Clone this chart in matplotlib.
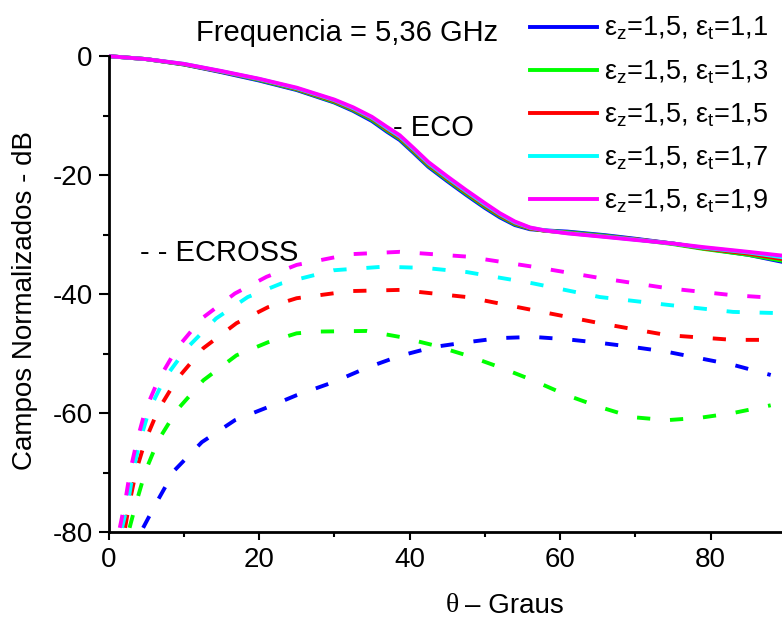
import matplotlib
matplotlib.use('Agg')
import matplotlib.pyplot as plt
from matplotlib.ticker import MultipleLocator

plt.rcParams['font.family'] = ['Liberation Sans', 'DejaVu Sans']
plt.rcParams['mathtext.fontset'] = 'custom'
plt.rcParams['mathtext.rm'] = 'Liberation Sans'
plt.rcParams['axes.unicode_minus'] = False

# co-polar field (ECO), one curve per epsilon_t
theta_co = [0, 5, 10, 15, 20, 25, 30, 32.5, 35, 37, 38.7, 40.5, 42.5, 45, 47.5, 50, 52, 54, 56, 58, 61, 66, 70, 75, 79, 85, 90]
eco_11 = [0, -0.5, -1.4, -2.7, -4.1, -5.7, -7.8, -9.2, -10.9, -12.7, -14.1, -16.2, -18.6, -21.0, -23.3, -25.5, -27.1, -28.4, -29.1, -29.3, -29.5, -30.1, -30.7, -31.5, -32.3, -33.4, -34.7]
eco_13 = [0, -0.5, -1.4, -2.6, -4.0, -5.6, -7.7, -9.05, -10.7, -12.5, -13.9, -16.0, -18.4, -20.8, -23.1, -25.3, -26.9, -28.25, -29.0, -29.35, -29.6, -30.2, -30.8, -31.6, -32.4, -33.4, -34.5]
eco_15 = [0, -0.5, -1.35, -2.6, -3.9, -5.5, -7.55, -8.9, -10.5, -12.3, -13.7, -15.8, -18.2, -20.6, -22.9, -25.1, -26.75, -28.1, -28.95, -29.35, -29.7, -30.3, -30.8, -31.5, -32.3, -33.2, -34.2]
eco_17 = [0, -0.5, -1.3, -2.55, -3.85, -5.4, -7.4, -8.75, -10.35, -12.1, -13.5, -15.6, -18.0, -20.4, -22.7, -24.9, -26.55, -27.95, -28.85, -29.3, -29.75, -30.35, -30.85, -31.5, -32.2, -33.0, -33.9]
eco_19 = [0, -0.5, -1.3, -2.5, -3.8, -5.3, -7.3, -8.6, -10.2, -11.9, -13.3, -15.4, -17.8, -20.2, -22.5, -24.7, -26.4, -27.8, -28.8, -29.3, -29.8, -30.4, -30.9, -31.5, -32.1, -32.9, -33.6]

# cross-polar field (ECROSS)
th_x11 = [4.6, 6.4, 8.8, 12.4, 16.8, 21.2, 25.0, 29.9, 34.3, 38.7, 43.2, 47.6, 52.0, 56.4, 60.9, 65.3, 69.7, 74.2, 78.6, 83.0, 88.0]
ex_11 = [-79.3, -75.0, -69.6, -64.9, -61.2, -59.0, -57.0, -54.8, -52.4, -50.4, -48.9, -48.1, -47.4, -47.2, -47.6, -48.2, -48.9, -49.7, -50.8, -51.9, -53.6]
th_x13 = [2.8, 3.7, 4.9, 6.6, 9.1, 12.6, 17.0, 21.2, 25.0, 28.1, 34.3, 38.7, 43.2, 47.6, 52.0, 56.4, 60.9, 65.3, 69.7, 74.2, 78.6, 83.0, 88.0]
ex_13 = [-79.3, -75.0, -69.8, -64.6, -59.5, -54.5, -50.3, -48.1, -46.6, -46.3, -46.2, -47.2, -48.6, -50.3, -52.3, -54.5, -57.0, -59.0, -60.7, -61.2, -60.8, -60.0, -58.7]
th_x15 = [2.2, 2.8, 3.7, 4.9, 6.6, 9.1, 12.6, 17.0, 21.2, 25.0, 32.1, 38.7, 47.6, 56.4, 65.3, 74.2, 83.0, 88.0]
ex_15 = [-79.3, -75.0, -69.6, -64.6, -59.5, -54.3, -49.1, -44.9, -42.2, -40.7, -39.5, -39.3, -40.5, -42.7, -44.9, -46.9, -47.7, -47.7]
th_x17 = [1.8, 2.6, 3.3, 4.2, 5.4, 7.5, 10.4, 14.3, 18.5, 23.0, 29.9, 36.5, 42.0, 47.6, 56.4, 65.3, 74.2, 83.0, 89.0]
ex_17 = [-79.3, -75.0, -69.6, -64.6, -59.5, -54.1, -49.1, -44.1, -40.5, -38.2, -36.0, -35.4, -35.6, -36.3, -38.2, -40.5, -41.8, -43.0, -43.2]
th_x19 = [1.5, 2.2, 2.9, 3.8, 4.9, 6.6, 9.1, 12.4, 16.8, 21.0, 25.0, 32.1, 38.7, 47.6, 56.4, 65.3, 74.2, 83.0, 88.0]
ex_19 = [-79.3, -75.0, -69.6, -64.6, -59.5, -54.5, -49.1, -44.1, -39.9, -37.1, -35.1, -33.3, -32.9, -33.7, -35.4, -37.3, -39.0, -40.2, -40.6]

labels = ['1,1', '1,3', '1,5', '1,7', '1,9']
colors = ['#0000ff', '#00ff00', '#ff0000', '#00ffff', '#ff00ff']
eco = [eco_11, eco_13, eco_15, eco_17, eco_19]
ecross = [(th_x11, ex_11), (th_x13, ex_13), (th_x15, ex_15), (th_x17, ex_17), (th_x19, ex_19)]

W, H = 782, 619
fig = plt.figure(figsize=(W / 100, H / 100), dpi=100)
ax = fig.add_axes([108.5 / W, 1 - 532 / H, 1 - 108.5 / W, 530 / H])

for (tx, ex), c in zip(ecross, colors):
    ax.plot(tx, ex, color=c, lw=2.8, dashes=(3.4, 5.1))
for vals, c, lab in zip(eco, colors, labels):
    ax.plot(theta_co, vals, color=c, lw=2.8,
            label='ε$_\\mathregular{z}$=1,5, ε$_\\mathregular{t}$=' + lab)

ax.set_xlim(0, 89.5)
ax.set_ylim(-80, 9.1)
ax.spines['top'].set_visible(False)
ax.spines['right'].set_visible(False)
ax.spines['left'].set_bounds(-80, 0)
for s in ['left', 'bottom']:
    ax.spines[s].set_linewidth(2)
ax.set_xticks([0, 20, 40, 60, 80])
ax.set_yticks([-80, -60, -40, -20, 0])
ax.xaxis.set_minor_locator(MultipleLocator(10))
ax.set_yticks([-70, -50, -30, -10], minor=True)
ax.tick_params(which='both', direction='out', width=1.5, labelsize=20)
ax.tick_params(axis='x', which='major', length=6, pad=5)
ax.tick_params(axis='x', which='minor', length=3.5)
ax.tick_params(axis='y', which='major', length=7.5, pad=4)
ax.tick_params(axis='y', which='minor', length=4)

ax.text(11.6, 3.9, 'Frequencia = 5,36 GHz', fontsize=21, ha='left', va='center')
ax.text(37.8, -12.1, '- ECO', fontsize=21, ha='left', va='center')
ax.text(4.2, -33.1, '- - ECROSS', fontsize=21, ha='left', va='center')

fig.text(25 / W, 1 - 301 / H, 'Campos Normalizados - dB', fontsize=20,
         rotation=90, ha='center', va='center')
# x label: serif theta followed by the sans text
fig.text(459 / W, 1 - 606 / H, 'θ', fontsize=20, family='Liberation Serif',
         ha='right', va='center')
fig.text(465 / W, 1 - 606 / H, '– Graus', fontsize=20, ha='left', va='center')

ax.legend(loc='upper left', bbox_to_anchor=(530 / W, 1 - 15 / H),
          bbox_transform=fig.transFigure, frameon=False, fontsize=19.5,
          handlelength=2.48, handletextpad=0.26, labelspacing=0.58,
          borderpad=0, borderaxespad=0)

fig.savefig('out.png', dpi=100)
